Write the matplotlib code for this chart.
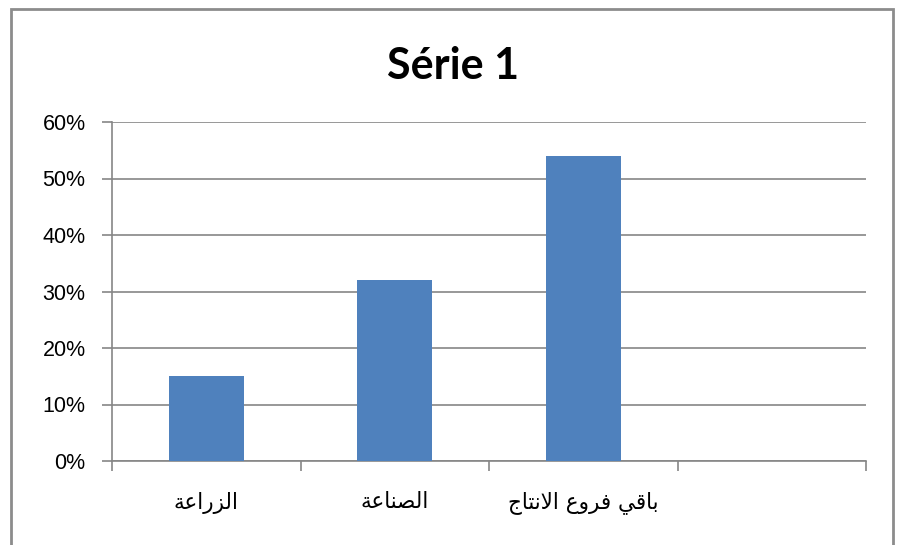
import numpy as np
import matplotlib
matplotlib.use('Agg')
import matplotlib.pyplot as plt
from matplotlib.patches import Rectangle
from matplotlib.ticker import FixedLocator, PercentFormatter

# données du graphique
categories = ['الزراعة', 'الصناعة', 'باقي فروع الانتاج', '']
valeurs = [0.15, 0.32, 0.54, np.nan]
titre = 'Série 1'
yticks = [0, 0.1, 0.2, 0.3, 0.4, 0.5, 0.6]

# formes contextuelles arabes (matplotlib ne fait pas le shaping)
AR = {
    'ا': ('\uFE8D', '\uFE8E'),
    'ب': ('\uFE8F', '\uFE90', '\uFE91', '\uFE92'),
    'ة': ('\uFE93', '\uFE94'),
    'ت': ('\uFE95', '\uFE96', '\uFE97', '\uFE98'),
    'ج': ('\uFE9D', '\uFE9E', '\uFE9F', '\uFEA0'),
    'ر': ('\uFEAD', '\uFEAE'),
    'ز': ('\uFEAF', '\uFEB0'),
    'ص': ('\uFEB9', '\uFEBA', '\uFEBB', '\uFEBC'),
    'ع': ('\uFEC9', '\uFECA', '\uFECB', '\uFECC'),
    'ف': ('\uFED1', '\uFED2', '\uFED3', '\uFED4'),
    'ق': ('\uFED5', '\uFED6', '\uFED7', '\uFED8'),
    'ل': ('\uFEDD', '\uFEDE', '\uFEDF', '\uFEE0'),
    'ن': ('\uFEE5', '\uFEE6', '\uFEE7', '\uFEE8'),
    'و': ('\uFEED', '\uFEEE'),
    'ي': ('\uFEF1', '\uFEF2', '\uFEF3', '\uFEF4'),
}
LAM_ALEF = ('\uFEFB', '\uFEFC')


def arabe(texte):
    '''mise en forme + inversion pour affichage gauche-droite'''
    unites = []
    i = 0
    while i < len(texte):
        c = texte[i]
        if c == 'ل' and i + 1 < len(texte) and texte[i + 1] == 'ا':
            unites.append(LAM_ALEF)
            i += 2
        else:
            unites.append(AR.get(c, (c,)))
            i += 1
    sortie = []
    for k, f in enumerate(unites):
        if len(f) == 1:
            sortie.append(f[0])
            continue
        prec = unites[k - 1] if k > 0 else None
        suiv = unites[k + 1] if k + 1 < len(unites) else None
        jp = prec is not None and len(prec) == 4
        jn = len(f) == 4 and suiv is not None and len(suiv) >= 2
        idx = 3 if (jp and jn) else 1 if jp else 2 if jn else 0
        sortie.append(f[idx])
    return ''.join(reversed(sortie))


gris = '#868686'
fig = plt.figure(figsize=(9, 5.45), dpi=100)
ax = fig.add_axes([112 / 900, 1 - 461 / 545, (866 - 112) / 900, (461 - 122) / 545])

x = np.arange(len(categories))
ok = ~np.isnan(valeurs)
ax.bar(x[ok], np.array(valeurs)[ok], width=0.4, color='#4f81bd', zorder=3)

ax.set_xlim(-0.5, len(categories) - 0.5)
ax.set_ylim(0, 0.6)
ax.set_yticks(yticks)
ax.yaxis.set_major_formatter(PercentFormatter(1.0, decimals=0))
ax.grid(axis='y', color=gris, linewidth=1.2, zorder=0)

ax.set_xticks(x)
ax.set_xticklabels([arabe(c) for c in categories], fontsize=15.5, family='DejaVu Sans')
ax.xaxis.set_minor_locator(FixedLocator(np.arange(len(categories) + 1) - 0.5))
ax.tick_params(axis='x', which='major', length=0, pad=22)
ax.tick_params(axis='x', which='minor', length=7, width=1.2, color=gris)
ax.tick_params(axis='y', length=7, width=1.2, color=gris, pad=12, labelsize=15.5)
for lab in ax.get_yticklabels():
    lab.set_family('Liberation Sans')

for s in ['top', 'right']:
    ax.spines[s].set_visible(False)
for s in ['left', 'bottom']:
    ax.spines[s].set_color(gris)
    ax.spines[s].set_linewidth(1.2)

fig.text(0.503, 1 - 66 / 545, titre, ha='center', va='center',
         fontsize=31, fontweight='bold', family='Lato')

# cadre du graphique
fig.patches.append(Rectangle((10.5 / 900, -0.05), (893 - 10.5) / 900, 1.05 - 9.5 / 545,
                             transform=fig.transFigure, fill=False,
                             edgecolor='#8c8c8c', linewidth=2))

plt.savefig('out.png', dpi=100)
